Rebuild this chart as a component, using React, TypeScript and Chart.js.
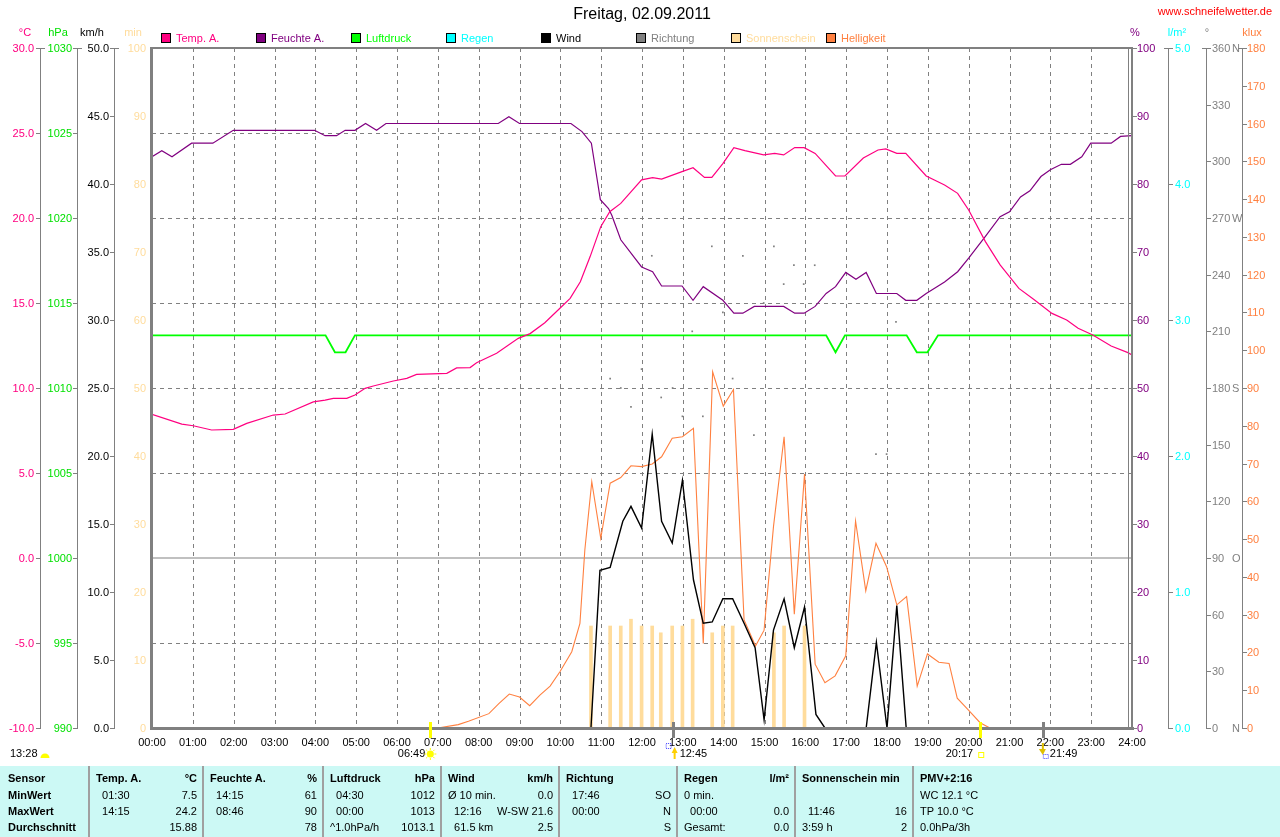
import React, { useEffect, useRef } from "react";
import { Chart, registerables } from "chart.js";

Chart.register(...registerables);

const FONT = '"Liberation Sans", Arial, sans-serif';

// ---------- DATA ----------
const titleText = "Freitag, 02.09.2011";
const siteText = "www.schneifelwetter.de";

const hourLabels = ["00:00","01:00","02:00","03:00","04:00","05:00","06:00","07:00","08:00","09:00","10:00","11:00","12:00","13:00","14:00","15:00","16:00","17:00","18:00","19:00","20:00","21:00","22:00","23:00","24:00"];

const tempTime = [0,0.73,1.01,1.46,1.99,2.32,2.97,3.26,3.95,4.24,4.44,4.77,4.97,5.22,5.42,5.91,6.24,6.48,7.22,7.46,7.79,7.95,8.44,8.97,9.26,9.62,9.99,10.24,10.49,10.73,10.99,11.21,11.48,11.99,12.26,12.48,12.98,13.25,13.53,13.71,13.98,14.25,14.52,14.98,15.25,15.47,15.74,15.97,16.24,16.74,16.97,17.42,17.78,17.97,18.24,18.46,18.96,19.41,19.73,20.0,20.41,20.77,21.23,21.59,22.04,22.4,22.68,23.04,23.49,23.9,24];
const tempValue = [8.45,7.88,7.78,7.53,7.57,7.92,8.41,8.47,9.18,9.29,9.39,9.39,9.59,9.98,10.12,10.41,10.57,10.8,10.86,11.18,11.2,11.49,12.04,12.92,13.2,13.84,14.69,15.27,16.25,17.73,19.49,20.37,20.86,22.24,22.37,22.29,22.73,22.96,22.39,22.39,23.2,24.14,23.96,23.71,23.8,23.71,24.14,24.14,23.8,22.47,22.47,23.53,24.0,24.06,23.8,23.8,22.47,21.94,21.45,20.47,18.61,17.24,15.86,15.22,14.39,14.0,13.51,13.12,12.47,12.08,11.95];

const humTime = [0,0.24,0.49,0.97,1.49,1.99,3.98,4.24,4.52,4.73,4.97,5.23,5.5,5.73,8.48,8.74,9.0,10.26,10.53,10.76,10.89,10.98,11.18,11.26,11.48,11.99,12.26,12.48,12.98,13.25,13.5,13.98,14.25,14.47,14.75,15.47,15.74,15.97,16.24,16.51,16.74,16.99,17.24,17.49,17.74,18.24,18.46,18.73,18.96,19.41,19.73,20.0,20.41,20.77,21.0,21.27,21.5,21.77,22.0,22.27,22.49,22.77,22.99,23.49,23.72,24];
const humValue = [84.0,84.9,84.0,86.0,86.0,87.9,87.9,87.1,87.1,87.9,87.9,88.9,87.9,88.9,88.9,89.9,88.9,88.9,87.7,86.0,81.1,77.7,76.4,75.4,71.8,67.8,67.1,65.0,65.0,62.9,64.9,62.9,61.0,61.0,62.0,62.0,61.0,61.0,62.0,63.9,64.9,67.0,66.0,67.0,63.9,63.9,62.9,62.9,63.9,65.6,67.1,69.1,72.3,75.2,75.9,78.1,79.0,81.1,82.1,82.9,82.9,84.0,86.0,86.0,87.0,87.1];

const pressTime = [0,4.25,4.48,4.74,4.97,16.51,16.74,16.97,18.48,18.73,18.99,19.25,24];
const pressValue = [1013.1,1013.1,1012.1,1012.1,1013.1,1013.1,1012.1,1013.1,1013.1,1012.1,1012.1,1013.1,1013.1];

const rainTime = [0,24];
const rainValue = [0,0];

const windTime = [0,10.75,10.97,11.22,11.53,11.73,11.99,12.25,12.48,12.74,12.99,13.26,13.5,13.72,13.98,14.22,14.5,14.77,14.99,15.22,15.48,15.73,15.98,16.26,16.48,17.49,17.74,18.0,18.24,18.47,24];
const windValue = [0,0,11.6,11.8,15.2,16.3,14.7,21.6,15.2,13.6,18.2,10.9,7.7,7.8,9.5,9.5,7.7,5.9,0.6,7.2,9.5,5.9,8.9,1.0,0,0,6.3,0,9.0,0,0];

const dirTime = [11.22,11.48,11.73,11.99,12.24,12.47,12.75,12.99,13.23,13.49,13.71,13.98,14.22,14.47,14.74,14.98,15.23,15.47,15.72,15.96,16.23,17.73,17.99,18.22];
const dirValue = [185,180,170,190,250,175,180,165,210,165,255,220,185,250,155,225,255,235,245,235,245,145,145,215];

const sunTime = [10.75,11.22,11.48,11.73,11.99,12.25,12.46,12.74,12.99,13.24,13.72,13.98,14.22,15.23,15.48,15.98];
const sunValue = [15,15,15,16,15,15,14,15,15,16,14,15,15,14,15,15];

const luxTime = [0,7.0,7.5,7.75,8.25,8.5,8.75,9.0,9.25,9.5,9.75,9.99,10.28,10.48,10.6,10.77,10.99,11.22,11.48,11.73,11.99,12.25,12.48,12.74,12.99,13.26,13.5,13.73,13.99,14.24,14.5,14.78,14.99,15.22,15.48,15.73,15.98,16.24,16.48,16.73,16.99,17.23,17.48,17.73,17.99,18.24,18.48,18.74,18.99,19.27,19.52,19.72,19.99,20.28,20.52,24];
const luxValue = [0,0,0.9,1.8,3.8,6.5,9.0,8.2,5.9,8.7,11.1,14.9,20.2,27.7,47.1,65.2,50.2,64.8,66.3,69.4,69.2,69.9,71.8,76.7,77.1,79.3,22.4,94.3,85.2,89.6,28.6,21.7,25.9,53.3,77.1,30.1,67.2,16.9,12.0,13.8,19.1,54.8,36.3,48.9,42.7,32.6,34.8,11.1,19.6,17.4,17.1,7.9,4.8,1.4,0,0];

// axis ticks
const tempTicks = [30,25,20,15,10,5,0,-5,-10];
const pressTicks = [1030,1025,1020,1015,1010,1005,1000,995,990];
const windTicks = [50,45,40,35,30,25,20,15,10,5,0];
const minTicks = [100,90,80,70,60,50,40,30,20,10,0];
const humTicks = [100,90,80,70,60,50,40,30,20,10,0];
const rainTicks = [5,4,3,2,1,0];
const dirTicks = [360,330,300,270,240,210,180,150,120,90,60,30,0];
const dirLetters = ["N","","","W","","","S","","","O","","","N"];
const luxTicks = [180,170,160,150,140,130,120,110,100,90,80,70,60,50,40,30,20,10,0];

const legendNames = ["Temp. A.","Feuchte A.","Luftdruck","Regen","Wind","Richtung","Sonnenschein","Helligkeit"];
const COL = {
  temp: "#ff0080", hum: "#800080", press: "#00ff00", rain: "#00ffff",
  wind: "#000000", dir: "#808080", sun: "#ffdc9c", lux: "#ff8040",
};
const legendColors = [COL.temp, COL.hum, COL.press, COL.rain, COL.wind, COL.dir, COL.sun, COL.lux];

// astro markers (time label, hours)
const sunriseLabel = "06:49"; const sunriseTime = 6 + 49 / 60;
const sunsetLabel = "20:17"; const sunsetTime = 20 + 17 / 60;
const noonLabel = "12:45"; const noonTime = 12.75;
const moonLabel = "21:49"; const moonTime = 21 + 49 / 60;
const moonRiseLabel = "13:28";

// table
const tableSeps = [89, 203, 323, 441, 559, 677, 795, 913];
const sensorRows = ["MinWert", "MaxWert", "Durchschnitt"];
const tableHeads = ["Temp. A.", "Feuchte A.", "Luftdruck", "Wind", "Richtung", "Regen", "Sonnenschein min", "PMV+2:16"];
const tableUnits = ["°C", "%", "hPa", "km/h", "", "l/m²", "", ""];
const tableLeft = [
  ["  01:30", "  14:15", ""],
  ["  14:15", "  08:46", ""],
  ["  04:30", "  00:00", "^1.0hPa/h"],
  ["Ø 10 min.", "  12:16", "  61.5 km"],
  ["  17:46", "  00:00", ""],
  ["0 min.", "  00:00", "Gesamt:"],
  ["", "  11:46", "3:59 h"],
  ["WC 12.1 °C", "TP 10.0 °C", "0.0hPa/3h"],
];
const tableRight = [
  ["7.5", "24.2", "15.88"],
  ["61", "90", "78"],
  ["1012", "1013", "1013.1"],
  ["0.0", "W-SW 21.6", "2.5"],
  ["SO", "N", "S"],
  ["", "0.0", "0.0"],
  ["", "16", "2"],
  ["", "", ""],
];

const pts = (t: number[], v: number[]) => t.map((x, i) => ({ x, y: v[i] }));

const wxPlugin = {
  id: "wx",
  beforeDatasetsDraw(chart: any) {
    const { ctx, chartArea: a, scales } = chart;
    ctx.save();
    ctx.strokeStyle = "#808080";
    ctx.lineWidth = 1;
    ctx.setLineDash([4, 4]);
    for (let i = 1; i < hourLabels.length - 1; i++) {
      const x = Math.round(scales.x.getPixelForValue(i)) + 0.5;
      ctx.beginPath(); ctx.moveTo(x, a.top); ctx.lineTo(x, a.bottom); ctx.stroke();
    }
    for (const v of tempTicks) {
      if (v === 0 || v === 30 || v === -10) continue;
      const y = Math.round(scales.yT.getPixelForValue(v)) + 0.5;
      ctx.beginPath(); ctx.moveTo(a.left, y); ctx.lineTo(a.right, y); ctx.stroke();
    }
    ctx.setLineDash([]);
    ctx.strokeStyle = "#c0c0c0";
    ctx.lineWidth = 2;
    const y0 = Math.round(scales.yT.getPixelForValue(0));
    ctx.beginPath(); ctx.moveTo(a.left, y0); ctx.lineTo(a.right, y0); ctx.stroke();
    ctx.restore();
  },
  afterDatasetsDraw(chart: any) {
    const { ctx, chartArea: a, scales } = chart;
    const X = (t: number) => scales.x.getPixelForValue(t);
    ctx.save();
    // frame
    ctx.strokeStyle = "#808080";
    ctx.lineWidth = 3;
    ctx.beginPath(); ctx.moveTo(a.left - 0.5, a.top - 1); ctx.lineTo(a.left - 0.5, a.bottom + 1.5); ctx.stroke();
    ctx.beginPath(); ctx.moveTo(a.left - 2, a.bottom + 0.5); ctx.lineTo(a.right + 2, a.bottom + 0.5); ctx.stroke();
    ctx.lineWidth = 2;
    ctx.beginPath(); ctx.moveTo(a.left - 2, a.top); ctx.lineTo(a.right + 1, a.top); ctx.stroke();
    ctx.beginPath(); ctx.moveTo(a.right + 0, a.top); ctx.lineTo(a.right + 0, a.bottom + 2); ctx.stroke();
    ctx.lineWidth = 1;
    ctx.beginPath(); ctx.moveTo(a.right - 3.5, a.top); ctx.lineTo(a.right - 3.5, a.bottom); ctx.stroke();

    ctx.font = `11px ${FONT}`;
    ctx.textBaseline = "middle";

    // left axes: ticks point left of the axis line, top tick is a T
    const leftAxis = (scale: any, ticks: number[], axisX: number | null, labelRight: number, color: string, fmt: (v: number) => string) => {
      ctx.strokeStyle = "#808080";
      ctx.lineWidth = 1;
      if (axisX !== null) {
        ctx.beginPath(); ctx.moveTo(axisX + 0.5, a.top); ctx.lineTo(axisX + 0.5, a.bottom); ctx.stroke();
      }
      ctx.fillStyle = color;
      ctx.textAlign = "right";
      ticks.forEach((v, i) => {
        const y = Math.round(scale.getPixelForValue(v)) + 0.5;
        if (axisX !== null) {
          ctx.beginPath(); ctx.moveTo(axisX - 4, y); ctx.lineTo(axisX + (i === 0 ? 5 : 1), y); ctx.stroke();
        }
        ctx.fillText(fmt(v), labelRight, y);
      });
    };
    leftAxis(scales.yT, tempTicks, 40, 34, COL.temp, (v) => v.toFixed(1));
    leftAxis(scales.yP, pressTicks, 77, 72, "#00e000", (v) => String(v));
    leftAxis(scales.yW, windTicks, 114, 109, "#000000", (v) => v.toFixed(1));
    leftAxis(scales.yM, minTicks, null, 146, "#ffdc9c", (v) => String(v));

    // right axes: ticks point right of the axis line, top tick is a T
    const rightAxis = (scale: any, ticks: number[], axisX: number | null, labelLeft: number, color: string, fmt: (v: number) => string) => {
      ctx.strokeStyle = "#808080";
      ctx.lineWidth = 1;
      if (axisX !== null) {
        ctx.beginPath(); ctx.moveTo(axisX + 0.5, a.top); ctx.lineTo(axisX + 0.5, a.bottom); ctx.stroke();
      }
      ctx.fillStyle = color;
      ctx.textAlign = "left";
      ticks.forEach((v, i) => {
        const y = Math.round(scale.getPixelForValue(v)) + 0.5;
        if (axisX !== null) {
          ctx.beginPath(); ctx.moveTo(axisX - (i === 0 ? 4 : 0), y); ctx.lineTo(axisX + 5, y); ctx.stroke();
        } else {
          ctx.beginPath(); ctx.moveTo(a.right, y); ctx.lineTo(a.right + 5, y); ctx.stroke();
        }
        ctx.fillText(fmt(v), labelLeft, y);
      });
    };
    rightAxis(scales.yH, humTicks, null, 1137, COL.hum, (v) => String(v));
    rightAxis(scales.yR, rainTicks, 1168, 1175, COL.rain, (v) => v.toFixed(1));
    rightAxis(scales.yD, dirTicks, 1206, 1212, "#808080", (v) => String(v));
    ctx.fillStyle = "#808080";
    dirTicks.forEach((v, i) => {
      if (dirLetters[i]) ctx.fillText(dirLetters[i], 1232, Math.round(scales.yD.getPixelForValue(v)) + 0.5);
    });
    rightAxis(scales.yL, luxTicks, 1242, 1247, COL.lux, (v) => String(v));

    // units
    const units: [string, number, string][] = [
      ["°C", 25, COL.temp], ["hPa", 58, "#00e000"], ["km/h", 92, "#000"], ["min", 133, "#ffdc9c"],
      ["%", 1135, COL.hum], ["l/m²", 1177, COL.rain], ["°", 1207, "#808080"], ["klux", 1252, COL.lux],
    ];
    ctx.textAlign = "center";
    for (const [t, x, c] of units) { ctx.fillStyle = c; ctx.fillText(t, x, 33); }

    // legend
    legendNames.forEach((n, i) => {
      const sx = 161 + i * 95;
      ctx.fillStyle = legendColors[i];
      ctx.fillRect(sx, 33, 10, 10);
      ctx.strokeStyle = "#000";
      ctx.lineWidth = 1;
      ctx.strokeRect(sx + 0.5, 33.5, 9, 9);
      ctx.textAlign = "left";
      ctx.fillText(n, sx + 15, 38.5);
    });

    // title
    ctx.fillStyle = "#000";
    ctx.textAlign = "center";
    ctx.font = `16px ${FONT}`;
    ctx.fillText(titleText, 642, 15);
    ctx.font = `11px ${FONT}`;
    ctx.fillStyle = "#ff0000";
    ctx.textAlign = "right";
    ctx.fillText(siteText, 1272, 12);

    // hour labels
    ctx.fillStyle = "#000";
    ctx.textAlign = "center";
    hourLabels.forEach((h, i) => ctx.fillText(h, X(i), 743));

    // markers on time axis
    ctx.fillStyle = "#ffff00";
    ctx.fillRect(Math.round(X(sunriseTime)) - 1, 722, 3, 16);
    ctx.fillRect(Math.round(X(sunsetTime)) - 1, 722, 3, 16);
    ctx.fillStyle = "#808080";
    ctx.fillRect(Math.round(X(noonTime)) - 1, 722, 3, 16);
    ctx.fillRect(Math.round(X(moonTime)) - 1, 722, 3, 16);

    // astro labels
    ctx.fillStyle = "#000";
    ctx.textAlign = "left";
    ctx.fillText(moonRiseLabel, 10, 754);
    ctx.fillStyle = "#ffff00";
    ctx.beginPath(); ctx.arc(45, 758, 4.5, Math.PI, 0); ctx.fill();

    ctx.fillStyle = "#000";
    ctx.textAlign = "right";
    ctx.fillText(sunriseLabel, X(sunriseTime) - 5, 754);
    const sx = X(sunriseTime), sy = 754;
    ctx.fillStyle = "#ffff00";
    ctx.beginPath(); ctx.arc(sx, sy, 3.5, 0, Math.PI * 2); ctx.fill();
    ctx.strokeStyle = "#ffff00"; ctx.lineWidth = 1;
    for (let k = 0; k < 8; k++) {
      const ang = (k * Math.PI) / 4;
      ctx.beginPath(); ctx.moveTo(sx + Math.cos(ang) * 4, sy + Math.sin(ang) * 4); ctx.lineTo(sx + Math.cos(ang) * 6, sy + Math.sin(ang) * 6); ctx.stroke();
    }

    const nx = X(noonTime);
    ctx.fillStyle = "#000"; ctx.textAlign = "left";
    ctx.fillText(noonLabel, nx + 7, 754);
    ctx.strokeStyle = "#4040ff"; ctx.setLineDash([1, 1]);
    ctx.strokeRect(nx - 6.5, 743.5, 5, 5);
    ctx.setLineDash([]);
    ctx.fillStyle = "#ffd000";
    ctx.beginPath(); ctx.moveTo(nx - 1, 753); ctx.lineTo(nx + 5, 753); ctx.lineTo(nx + 2, 747); ctx.closePath(); ctx.fill();
    ctx.fillRect(nx + 1, 753, 2, 6);

    const ssx = X(sunsetTime);
    ctx.fillStyle = "#000"; ctx.textAlign = "right";
    ctx.fillText(sunsetLabel, ssx - 7, 754);
    ctx.strokeStyle = "#ffff00"; ctx.lineWidth = 1;
    ctx.strokeRect(ssx - 1.5, 752.5, 5, 5);

    const mx = X(moonTime);
    ctx.fillStyle = "#000"; ctx.textAlign = "left";
    ctx.fillText(moonLabel, mx + 7, 754);
    ctx.fillStyle = "#e0c000";
    ctx.fillRect(mx - 1, 743, 2, 6);
    ctx.beginPath(); ctx.moveTo(mx - 4, 749); ctx.lineTo(mx + 3, 749); ctx.lineTo(mx, 755); ctx.closePath(); ctx.fill();
    ctx.strokeStyle = "#4040ff"; ctx.setLineDash([1, 1]);
    ctx.strokeRect(mx + 0.5, 754.5, 5, 4);
    ctx.setLineDash([]);

    ctx.restore();
  },
};

function WeatherChart() {
  const ref = useRef<HTMLCanvasElement>(null);
  useEffect(() => {
    if (!ref.current) return;
    const line = (label: string, t: number[], v: number[], axis: string, color: string, width: number, order: number) => ({
      type: "line" as const,
      label,
      data: pts(t, v),
      yAxisID: axis,
      borderColor: color,
      backgroundColor: color,
      borderWidth: width,
      pointRadius: 0,
      tension: 0,
      fill: false,
      order,
    });
    const chart = new Chart(ref.current, {
      type: "line",
      data: {
        datasets: [
          line("Temp. A.", tempTime, tempValue, "yT", COL.temp, 1.2, 1),
          line("Feuchte A.", humTime, humValue, "yH", COL.hum, 1.2, 2),
          line("Luftdruck", pressTime, pressValue, "yP", COL.press, 1.8, 3),
          line("Regen", rainTime, rainValue, "yR", COL.rain, 1, 4),
          line("Wind", windTime, windValue, "yW", COL.wind, 1.4, 5),
          {
            type: "line" as const,
            label: "Richtung",
            data: pts(dirTime, dirValue),
            yAxisID: "yD",
            showLine: false,
            pointStyle: "rect",
            pointRadius: 1.2,
            pointBorderWidth: 0,
            pointBackgroundColor: COL.dir,
            borderColor: COL.dir,
            order: 6,
          },
          line("Helligkeit", luxTime, luxValue, "yL", COL.lux, 1.1, 7),
          {
            type: "bar" as const,
            label: "Sonnenschein",
            data: pts(sunTime, sunValue),
            yAxisID: "yM",
            backgroundColor: COL.sun,
            borderWidth: 0,
            barThickness: 3,
            grouped: false,
            order: 8,
          },
        ] as any,
      },
      options: {
        responsive: false,
        animation: false,
        devicePixelRatio: 1,
        layout: { padding: { left: 152, right: 148, top: 48, bottom: 766 - 728 } },
        plugins: { legend: { display: false }, tooltip: { enabled: false }, title: { display: false } },
        scales: {
          x: { type: "linear", min: 0, max: 24, display: false, offset: false },
          yT: { type: "linear", min: -10, max: 30, display: false },
          yP: { type: "linear", min: 990, max: 1030, display: false },
          yW: { type: "linear", min: 0, max: 50, display: false },
          yM: { type: "linear", min: 0, max: 100, display: false },
          yH: { type: "linear", min: 0, max: 100, display: false },
          yR: { type: "linear", min: 0, max: 5, display: false },
          yD: { type: "linear", min: 0, max: 360, display: false },
          yL: { type: "linear", min: 0, max: 180, display: false },
        },
      } as any,
      plugins: [wxPlugin],
    });
    return () => chart.destroy();
  }, []);
  return <canvas ref={ref} width={1280} height={766} style={{ display: "block", width: 1280, height: 766 }} />;
}

function StatsTable() {
  const rowY = [771, 788, 804, 820];
  const txt = (s: string, style: React.CSSProperties, key: string, bold = false) => (
    <div key={key} style={{ position: "absolute", whiteSpace: "pre", fontSize: 11, lineHeight: "14px", fontWeight: bold ? 700 : 400, color: "#000", ...style }}>{s}</div>
  );
  const items: React.ReactNode[] = [];
  items.push(txt("Sensor", { left: 8, top: rowY[0] }, "s0", true));
  sensorRows.forEach((r, i) => items.push(txt(r, { left: 8, top: rowY[i + 1] }, "s" + (i + 1), true)));
  tableHeads.forEach((h, c) => {
    const left = tableSeps[c] + 7;
    const right = 1280 - ((c + 1 < tableSeps.length ? tableSeps[c + 1] : 1280) - 6);
    items.push(txt(h, { left, top: rowY[0] }, "h" + c, true));
    if (tableUnits[c]) items.push(txt(tableUnits[c], { right, top: rowY[0] }, "u" + c, true));
    for (let r = 0; r < 3; r++) {
      if (tableLeft[c][r]) items.push(txt(tableLeft[c][r], { left, top: rowY[r + 1] }, `l${c}${r}`));
      if (tableRight[c][r]) items.push(txt(tableRight[c][r], { right, top: rowY[r + 1] }, `r${c}${r}`));
    }
  });
  return (
    <div style={{ position: "absolute", left: 0, top: 766, width: 1280, height: 71, background: "#ccf9f5", fontFamily: FONT }}>
      <div style={{ position: "absolute", left: 0, top: -766, width: 1280, height: 837 }}>
        {tableSeps.map((x, i) => (
          <div key={"sep" + i} style={{ position: "absolute", left: x - 1, top: 766, width: 2, height: 71, background: "#a0a0a0" }} />
        ))}
        {items}
      </div>
    </div>
  );
}

export default function App() {
  return (
    <div style={{ position: "absolute", left: 0, top: 0, width: 1280, height: 837, background: "#fff", overflow: "hidden", fontFamily: FONT }}>
      <WeatherChart />
      <StatsTable />
    </div>
  );
}
